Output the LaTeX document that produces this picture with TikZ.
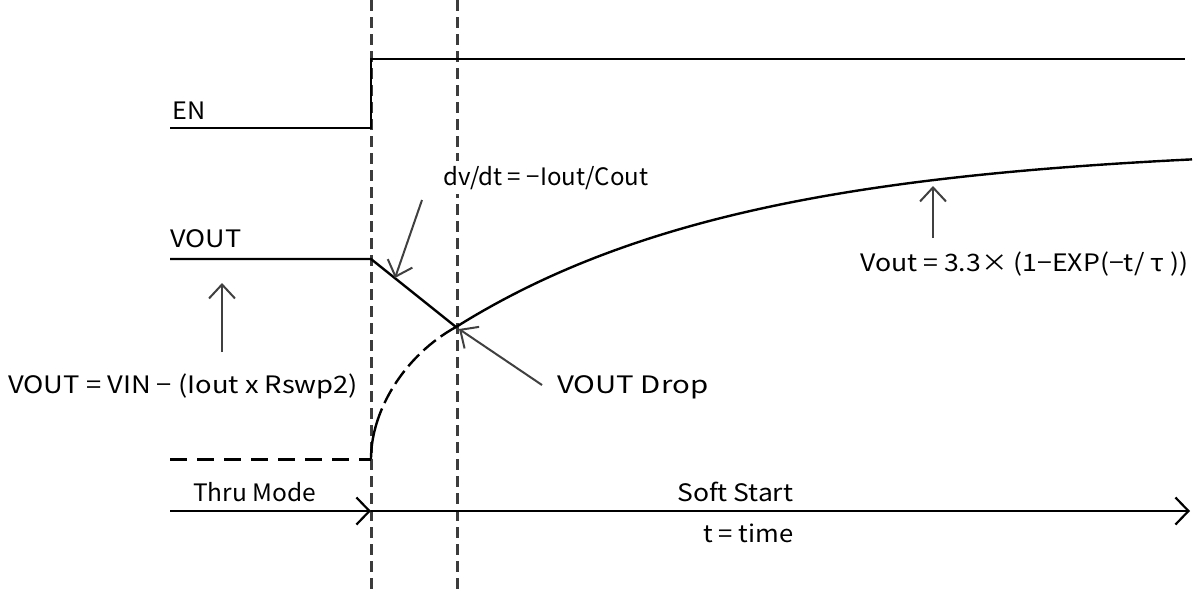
\documentclass[tikz,border=0pt]{standalone}
\usepackage{fontspec}
\setmainfont{Noto Sans CJK JP}
\usetikzlibrary{arrows.meta}
\definecolor{guidegray}{HTML}{3C3C3C}
\definecolor{annogray}{HTML}{404040}
\newcommand{\fitw}[2]{\resizebox{#1pt}{\height}{#2}}
\begin{document}
\begin{tikzpicture}[x=1pt,y=-1pt,
  sig/.style={line width=2.4pt, line join=miter},
  guide/.style={draw=guidegray, line width=3pt, dash pattern=on 11pt off 6pt},
  ann/.style={draw=annogray, line width=2pt, -{Straight Barb[length=14pt,width=26pt]}},
  axisarrow/.style={line width=2.2pt, -{Straight Barb[length=13pt,width=27pt]}},
  lbl/.style={anchor=base west, inner sep=0pt, font=\fontsize{24}{24}\selectfont},
  ]
\useasboundingbox (0,0) rectangle (1204,589);
% guide lines
\coordinate (g1t) at (371,0);
\coordinate (g1b) at (371,589);
\coordinate (g2t) at (457,0);
\coordinate (g2b) at (457,589);
\draw[guide] (g1t) -- (g1b);
\draw[guide] (g2t) -- (g2b);
% labels
\node[lbl, fill=white, inner sep=5pt] (dvdt) at (438,185) {\fitw{205}{dv/dt = −Iout/Cout}};
\node[lbl] (en) at (172,119) {\fitw{33}{EN}};
\node[lbl] (vout) at (170,247) {\fitw{71}{VOUT}};
\node[lbl] (form) at (860,271) {\fitw{328}{Vout = 3.3× (1−EXP(−t/ τ ))}};
\node[lbl] (vin) at (8,393) {\fitw{350}{VOUT = VIN − (Iout x Rswp2)}};
\node[lbl] (drop) at (557,393) {\fitw{151}{VOUT Drop}};
\node[lbl] (thru) at (193,501) {\fitw{123}{Thru Mode}};
\node[lbl] (soft) at (677,501) {\fitw{116}{Soft Start}};
\node[lbl] (time) at (703,542) {\fitw{90}{t = time}};
% EN signal
\coordinate (en0) at (170,128);
\coordinate (enr) at (371,128);
\coordinate (enh) at (371,59);
\coordinate (en1) at (1185,59);
\draw[sig] (en0) -- (enr) -- (enh) -- (en1);
% VOUT signal
\coordinate (vo0) at (170,259);
\coordinate (vo1) at (371,259);
\coordinate (xing) at (456,327);
\draw[sig] (vo0) -- (vo1) -- (xing);
\draw[sig] (xing) -- plot[domain=456:1192, samples=80] (\x, {145+182*exp(-(\x-456)/290)});
\coordinate (lo0) at (170,459);
\coordinate (lo1) at (371,459);
\draw[line width=3pt, dash pattern=on 17pt off 10pt] (lo0) -- (lo1);
\draw[line width=2.4pt, dash pattern=on 52pt off 6pt on 16pt off 6pt on 16pt off 6pt on 16pt off 6pt on 16pt off 6pt on 40pt]
  (lo1) .. controls (371,410) and (405,355) .. (xing);
% time axis
\coordinate (ax0) at (170,511);
\coordinate (ax1) at (371,511);
\coordinate (ax2) at (1190,511);
\draw[axisarrow] (ax0) -- (ax1);
\draw[axisarrow] (ax1) -- (ax2);
% annotation arrows
\coordinate (a1s) at (422,200);
\coordinate (a1e) at (395,278);
\draw[ann] (a1s) -- (a1e);
\coordinate (a2s) at (222,352);
\coordinate (a2e) at (222,283);
\draw[ann] (a2s) -- (a2e);
\coordinate (a3s) at (542,385);
\coordinate (a3e) at (459,329);
\draw[ann] (a3s) -- (a3e);
\coordinate (a4s) at (933,238);
\coordinate (a4e) at (933,186);
\draw[ann] (a4s) -- (a4e);
\end{tikzpicture}
\end{document}
